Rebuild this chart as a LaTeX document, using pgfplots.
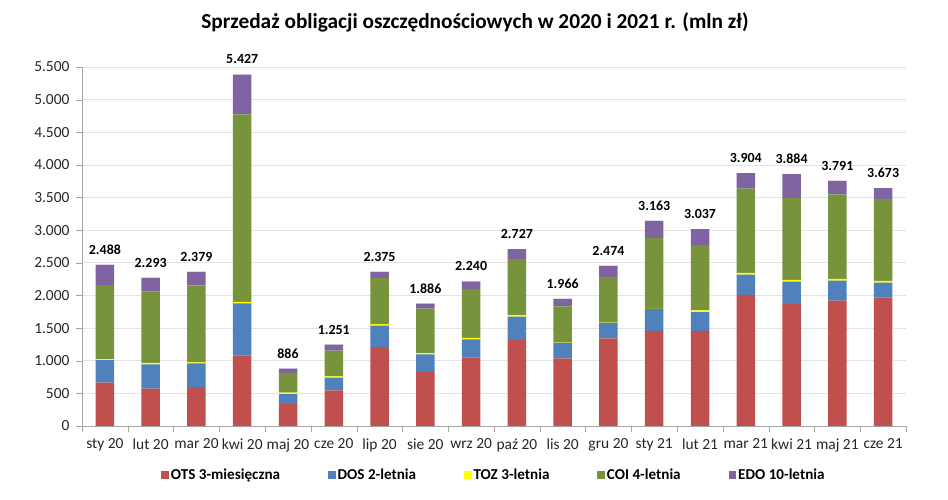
\documentclass[border=0pt]{standalone}
\usepackage{pgfplots}
\pgfplotsset{compat=1.18}
\usepackage{pgfplotstable}
\usepackage{fontspec}
\setmainfont{Carlito}
\definecolor{cOTS}{HTML}{C0504D}
\definecolor{cDOS}{HTML}{4F81BD}
\definecolor{cTOZ}{HTML}{FFFF00}
\definecolor{cCOI}{HTML}{77933C}
\definecolor{cEDO}{HTML}{8064A2}
\definecolor{axgray}{HTML}{A6A6A6}
\definecolor{gridgray}{HTML}{E3E3E3}
\pgfplotstableread{
x ots dos toz coi edo cap total
0 665 345 15 1135 309 1 2488
1 571 373 25 1090 211 1 2293
2 597 362 15 1180 208 1 2379
3 1082 795 26 2870 610 1 5427
4 337 153 20 305 63 1 886
5 546 194 20 395 90 1 1251
6 1209 330 22 705 96 1 2375
7 826 270 22 680 74 1 1886
8 1053 276 22 750 112 1 2240
9 1318 358 22 860 150 1 2727
10 1037 235 5 555 115 1 1966
11 1344 235 5 700 169 1 2474
12 1456 333 5 1090 259 1 3163
13 1456 290 25 1000 244 1 3037
14 2008 312 25 1290 238 1 3904
15 1870 343 25 1255 365 1 3884
16 1921 307 25 1295 208 1 3791
17 1967 230 25 1255 166 1 3673
}\data
\begin{document}
\begin{tikzpicture}
\path[use as bounding box] (0,0) rectangle (948bp,500bp);
\node[font=\bfseries\fontsize{21.4}{24}\selectfont] at (475bp,478bp) {Sprzedaż obligacji oszczędnościowych w 2020 i 2021 r. (mln zł)};
\begin{axis}[
  at={(82bp,74bp)}, anchor=south west,
  scale only axis, width=824bp, height=359bp,
  ybar stacked, bar width=18.5bp,
  xmin=-0.5, xmax=17.5, ymin=0, ymax=5500,
  axis lines=left, axis line style={-, draw=axgray},
  ymajorgrids, grid style={gridgray, line width=0.8pt},
  ytick={0,500,...,5500}, scaled y ticks=false,
  tick align=outside, major tick length=6bp,
  tick style={axgray},
  xtick={-0.5,0.5,...,17.5}, xticklabels={},
  extra x ticks={0,...,17},
  extra x tick labels={sty 20,lut 20,mar 20,kwi 20,maj 20,cze 20,lip 20,sie 20,wrz 20,paź 20,lis 20,gru 20,sty 21,lut 21,mar 21,kwi 21,maj 21,cze 21},
  extra x tick style={major tick length=0pt, grid=none},
  ticklabel style={font=\fontsize{15.5}{17}\selectfont, text=black!85},
  /pgf/number format/.cd, assume math mode=true, 1000 sep={.}, fixed, precision=0, /pgfplots/.cd,
  yticklabel style={xshift=-3bp},
  xticklabel style={yshift=-9bp},
  legend style={at={(0.5,-0.137)}, anchor=center, draw=none, fill=none,
    legend columns=5, font=\bfseries\fontsize{15.2}{17}\selectfont,
    /tikz/every even column/.append style={column sep=46bp}},
  legend image code/.code={\fill[#1] (0bp,-3.7bp) rectangle (7.5bp,3.9bp);},
  every axis plot/.append style={draw=none},
]
\addplot[fill=cOTS] table[x=x,y=ots]{\data};
\addlegendentry{OTS 3-miesięczna}
\addplot[fill=cDOS] table[x=x,y=dos]{\data};
\addlegendentry{DOS 2-letnia}
\addplot[fill=cTOZ] table[x=x,y=toz]{\data};
\addlegendentry{TOZ 3-letnia}
\addplot[fill=cCOI] table[x=x,y=coi]{\data};
\addlegendentry{COI 4-letnia}
\addplot[fill=cEDO] table[x=x,y=edo]{\data};
\addlegendentry{EDO 10-letnia}
\addplot[fill=cEDO, draw=none, point meta=\thisrow{total},
  nodes near coords={\pgfmathprintnumber[assume math mode=true,1000 sep={.},fixed,precision=0]{\pgfplotspointmeta}},
  every node near coord/.append style={font=\bfseries\fontsize{14}{15}\selectfont, text=black, anchor=south, yshift=7bp}
  ] table[x=x,y=cap]{\data};
\end{axis}
\end{tikzpicture}
\end{document}
